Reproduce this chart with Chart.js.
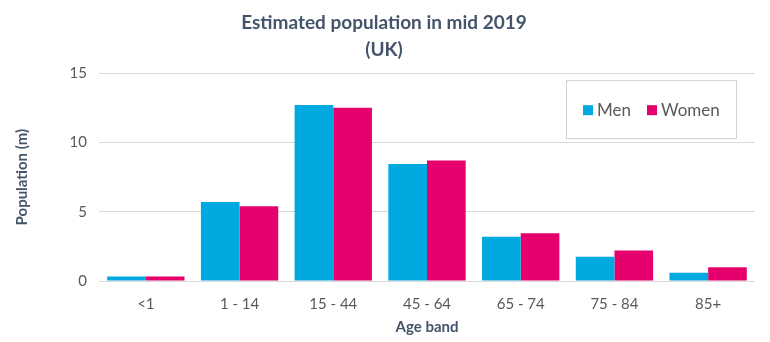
<!DOCTYPE html>
<html>
<head>
<meta charset="utf-8">
<script src="https://cdn.jsdelivr.net/npm/chart.js@4.4.1/dist/chart.umd.min.js"></script>
<style>
  html, body { margin: 0; padding: 0; background: #fff; }
  #wrap { width: 770px; height: 342px; }
</style>
</head>
<body>
<div id="wrap"><canvas id="chart"></canvas></div>
<script>
// ===== DATA =====
const ageBands = ["<1", "1 - 14", "15 - 44", "45 - 64", "65 - 74", "75 - 84", "85+"];
const men = [0.33, 5.7, 12.7, 8.45, 3.2, 1.75, 0.6];
const women = [0.33, 5.4, 12.5, 8.7, 3.45, 2.2, 1.0];
const yTicks = [0, 5, 10, 15];

const FONT = "Lato, 'Open Sans', sans-serif";
const CYAN = "#00a9e0";
const PINK = "#e6006e";
const GREY_TEXT = "#595959";
const TITLE_COLOR = "#44546a";

// ===== LEGEND BOX =====
// boxed legend sitting inside the top-right of the plot
const boxedLegend = {
  id: "boxedLegend",
  afterDraw(chart) {
    const { ctx, chartArea } = chart;
    const w = 170, h = 58;
    const x = chartArea.right - 19 - w;
    const y = chartArea.top + 7;

    ctx.save();
    ctx.strokeStyle = "#d0d0d0";
    ctx.lineWidth = 1;
    ctx.strokeRect(x + 0.5, y + 0.5, w, h);

    ctx.font = "17px " + FONT;
    ctx.textBaseline = "middle";
    let cx = x + 17;
    const cy = y + h / 2 + 1;
    chart.data.datasets.forEach(ds => {
      ctx.fillStyle = ds.backgroundColor;
      ctx.fillRect(cx, cy - 5, 10, 10);
      ctx.fillStyle = GREY_TEXT;
      ctx.fillText(ds.label, cx + 14, cy);
      cx += 14 + ctx.measureText(ds.label).width + 16;
    });
    ctx.restore();
  }
};

// ===== CHART =====
new Chart(document.getElementById("chart"), {
  type: "bar",
  data: {
    labels: ageBands,
    datasets: [
      { label: "Men", data: men, backgroundColor: CYAN },
      { label: "Women", data: women, backgroundColor: PINK }
    ]
  },
  options: {
    responsive: true,
    maintainAspectRatio: false,
    animation: false,
    layout: { padding: { left: 13, right: 15, top: 8, bottom: 6 } },
    datasets: {
      bar: { categoryPercentage: 0.825, barPercentage: 1 }
    },
    plugins: {
      legend: { display: false },
      tooltip: { enabled: false },
      title: {
        display: true,
        text: ["Estimated population in mid 2019", "(UK)"],
        color: TITLE_COLOR,
        font: { family: FONT, size: 19, weight: "bold", lineHeight: 1.4 },
        padding: { top: 2, bottom: 10 }
      }
    },
    scales: {
      x: {
        grid: { display: false },
        border: { display: false },
        ticks: { color: GREY_TEXT, font: { family: FONT, size: 15 }, padding: 6 },
        title: {
          display: true,
          text: "Age band",
          color: TITLE_COLOR,
          font: { family: FONT, size: 15, weight: "bold" },
          padding: { top: 0, bottom: 0 }
        },
        afterFit(scale) { scale.height = 55; }
      },
      y: {
        min: 0,
        max: 15,
        afterBuildTicks(scale) { scale.ticks = yTicks.map(v => ({ value: v })); },
        grid: { color: "#d9d9d9", drawTicks: false },
        border: { display: false },
        ticks: { color: GREY_TEXT, font: { family: FONT, size: 15 }, padding: 12 },
        title: {
          display: true,
          text: "Population (m)",
          color: TITLE_COLOR,
          font: { family: FONT, size: 15, weight: "bold" },
          padding: { top: 0, bottom: 0 }
        },
        afterFit(scale) { scale.width = 86; }
      }
    }
  },
  plugins: [boxedLegend]
});
</script>
</body>
</html>
